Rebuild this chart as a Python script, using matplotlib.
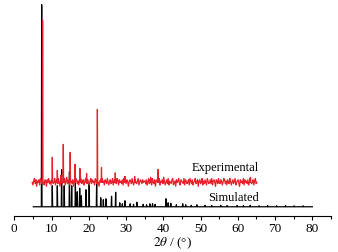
import numpy as np
import matplotlib.pyplot as plt
from matplotlib.ticker import MultipleLocator

plt.rcParams['font.family'] = ['Liberation Serif', 'DejaVu Serif']
plt.rcParams['mathtext.fontset'] = 'stix'

# simulated pattern: peak positions (2theta) and heights (arb. units)
sim_pos = [7.35, 10.2, 11.55, 12.7, 13.4, 14.8, 15.4, 16.4, 16.9, 17.55, 18.0,
           19.25, 20.1, 22.1, 23.2, 23.9, 24.6, 26.1, 27.2, 28.3, 29.0, 29.7,
           31.1, 32.0, 32.9, 34.6, 35.5, 36.4, 37.1, 37.8, 40.7, 41.3, 42.0,
           43.5, 45.2, 46.0, 47.5, 49.0, 51.2, 53.0, 55.4, 57.1, 59.8, 61.5,
           63.3, 65.7, 68.0, 70.4, 72.8, 75.1, 77.5]
sim_h = [202, 21, 21, 37, 21, 35, 21, 23.5, 15, 18.5, 11, 17, 23, 24.5, 9, 7,
         8, 10.5, 14.5, 4, 3, 6, 3, 2.5, 4.5, 2.5, 2, 3, 3, 2.5, 8, 4, 3.5, 2,
         3, 2, 1.5, 2, 1.5, 1.2, 1.5, 1.2, 1.3, 1.2, 1.4, 1.0, 1.2, 1.0, 1.1,
         1.0, 1.0]
sim_base = 9.3
sim_range = (5.1, 80.0)

# experimental pattern
exp_pos = [7.6, 10.2, 11.55, 12.5, 13.15, 15.0, 16.3, 17.6, 19.4, 22.3, 23.4,
           27.1, 29.7, 32.3, 36.6, 38.6, 63.4]
exp_h = [162, 25, 12, 7, 38, 30, 18, 14, 9, 73, 15, 9.5, 6, 6, 5, 13, 5]
exp_base = 33.7
exp_range = (4.8, 65.1)
exp_noise = [
    0, -2, 1, 3, -1, 2, -3, 1, 0, 2, -2, 3, 1, -1, 4, 0, -2, 2, 1, -3,
    2, 0, 3, -1, 1, -2, 2, 4, -1, 0, 3, -2, 1, 2, -1, 3, 0, -3, 2, 1,
    -1, 2, 0, 3, -2, 1, 4, -1, 2, 0, -2, 3, 1, -1, 2, -3, 1, 0, 3, 2,
    -1, 1, -2, 2, 0, 3, -1, 1, 2, -2, 0, 3, 1, -1, 2, 0, -2, 1, 3, -1,
    2, 0, 1, -2, 3, 1, -1, 2, 0, -3, 1, 2, -1, 3, 0, 1, -2, 2, 1, -1,
    3, 0, -2, 1, 2, -1, 0, 3, -2, 1, 2, 0, -1, 3, 1, -2, 2, 0, 1, -1,
    2, -2, 3, 0, 1, -1, 2, 1, -3, 0, 2, 1, -1, 3, 0, -2, 1, 2, 0, -1,
    1, 3, -2, 0, 2, 1, -1, 2, 0, 1,
    1, -1, 2, -2, 0, 3, -1, 2, 1, -2, 3, 0, -1, 2, -3, 1, 2, 0, -1, 3,
    -2, 1, 0, 2, -1, 4, 1, -2, 0, 2, -1, 3, -2, 1, 0, -1, 2, 3, -2, 0,
    1, -3, 2, 0, 1, 3, -1, -2, 2, 1, 0, -1, 3, -2, 2, 1, -1, 0, 2, -2,
    3, 1, -1, 2, -2, 0, 1, 3, -1, 0, 2, -3, 1, 2, -1, 0, 3, -2, 1, -1,
    2, 0, -2, 3, 1, -1, 0, 2, -1, 3, -2, 1, 2, 0, -3, 2, 1, -1, 3, 0,
    -1, 2, 1, -2, 0, 3, 2, -1, 1, -2, 2, 0, -1, 3, 1, -2, 0, 2, -1, 1,
    3, -2, 0, 1, 2, -1, -3, 2, 0, 1, -1, 3, -2, 2, 0, 1, -1, 2, -2, 0,
    3, 1, -1, 0, 2, -2, 1, 3, -1, 0]


def build_trace(pos, h, base, xr, noise=None, w=0.09):
    xs, ys = [], []
    if noise is not None:
        nx = np.linspace(xr[0], xr[1], len(noise))
        keep = [i for i in range(len(nx)) if min(abs(nx[i] - p) for p in pos) > w]
        xs += list(nx[keep])
        ys += [base + 1.3 * noise[i] for i in keep]
    else:
        xs += [xr[0], xr[1]]
        ys += [base, base]
    for p, hh in zip(pos, h):
        xs += [p - w, p, p + w]
        ys += [base, base + hh, base]
    order = np.argsort(xs)
    return np.array(xs)[order], np.array(ys)[order]


fig = plt.figure(figsize=(3.38, 2.53), dpi=100)
ax = fig.add_axes([0.0423, 0.142, 0.937, 0.858])

sx, sy = build_trace(sim_pos, sim_h, sim_base, sim_range)
ex, ey = build_trace(exp_pos, exp_h, exp_base, exp_range, noise=exp_noise)
ax.plot(sx, sy, color='black', lw=0.9)
ax.plot(ex, ey, color='#e8202a', lw=0.9)

ax.text(65.7, 49, 'Experimental', ha='right', va='center', fontsize=9)
ax.text(65.7, 19, 'Simulated', ha='right', va='center', fontsize=9)

ax.set_xlim(0, 85)
ax.set_ylim(0, 217)
for s in ['left', 'right', 'top']:
    ax.spines[s].set_visible(False)
ax.spines['bottom'].set_linewidth(0.8)
ax.set_yticks([])
ax.xaxis.set_major_locator(MultipleLocator(10))
ax.xaxis.set_minor_locator(MultipleLocator(5))
ax.tick_params(axis='x', which='major', direction='out', length=3, width=0.8,
               labelsize=9.5, pad=1.5)
ax.tick_params(axis='x', which='minor', direction='out', length=2, width=0.8)
ax.set_xlabel(r'$2\theta$ / (°)', fontsize=9.5, labelpad=0)

fig.savefig('out.png', dpi=100)
